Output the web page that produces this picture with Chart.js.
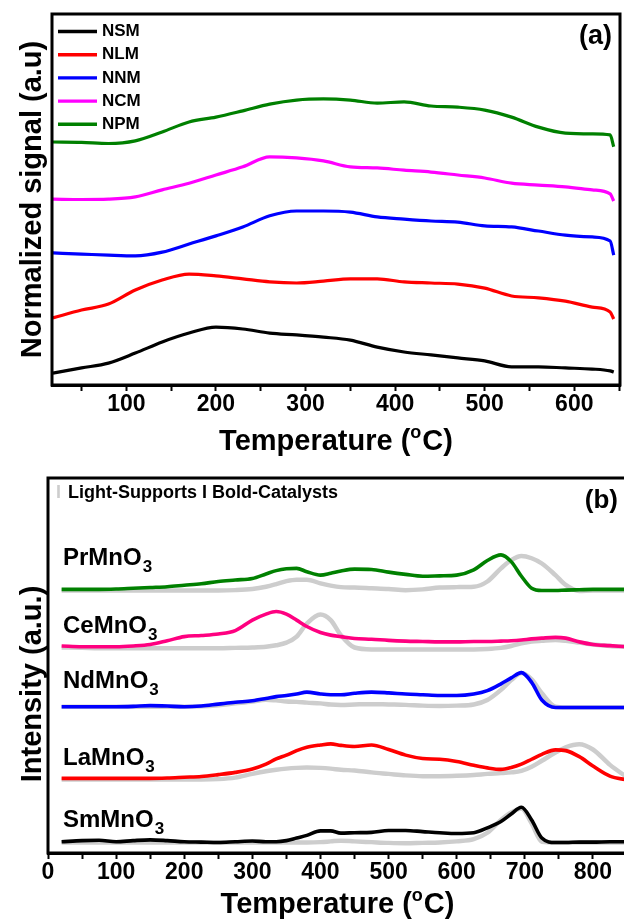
<!DOCTYPE html>
<html>
<head>
<meta charset="utf-8">
<title>TPR profiles</title>
<script src="https://cdn.jsdelivr.net/npm/chart.js@4.4.0/dist/chart.umd.min.js"></script>
<style>
  html, body { margin: 0; padding: 0; background: #fff; overflow: hidden; width: 624px; height: 924px; }
  canvas { position: absolute; left: 0; }
  #chartA { top: 0; }
  #chartB { top: 462px; }
</style>
</head>
<body>
<canvas id="chartA" width="624" height="462"></canvas>
<canvas id="chartB" width="632" height="462"></canvas>
<script>
/**
 * Two stacked TPR panels: (a) normalized signal, (b) supports vs catalysts
 */

// ---- panel (a) data ----
const TEMP_A = [18, 50, 80, 110, 140, 170, 200, 230, 260, 290, 320, 350, 380, 410, 440, 470, 500, 530, 560, 590, 620, 640, 644];
const NSM = [3.2, 4.6, 5.9, 8.6, 11.6, 14.0, 15.6, 15.1, 14.0, 13.5, 12.9, 12.1, 10.2, 8.9, 8.1, 7.3, 6.5, 4.9, 4.9, 4.6, 4.3, 3.8, 3.5];
const NLM = [18.1, 20.2, 21.8, 25.6, 28.3, 29.9, 29.4, 28.6, 27.8, 27.5, 28.0, 28.6, 28.6, 27.8, 27.5, 27.2, 26.1, 24.0, 23.5, 22.6, 21.0, 19.7, 17.8];
const NNM = [35.6, 35.3, 35.0, 34.8, 35.8, 38.0, 40.2, 42.6, 45.6, 46.9, 46.9, 46.6, 45.3, 44.7, 44.2, 43.9, 42.9, 42.6, 41.5, 40.4, 39.9, 38.8, 35.0];
const NCM = [50.1, 50.0, 50.1, 50.7, 52.6, 54.4, 56.6, 58.8, 61.5, 61.2, 60.4, 58.8, 58.5, 57.9, 57.4, 56.6, 55.8, 54.4, 53.9, 53.4, 52.6, 51.5, 49.6];
const NPM = [65.5, 65.4, 65.1, 65.8, 68.2, 70.9, 72.2, 73.9, 75.7, 76.8, 77.1, 76.8, 76.0, 76.3, 75.2, 74.9, 74.1, 72.2, 69.5, 67.9, 67.7, 67.4, 64.2];
const LABELS_A = ['NSM', 'NLM', 'NNM', 'NCM', 'NPM'];
const TICKS_A = { min: 17, max: 651, step: 50, labelEvery: 100 };

// ---- panel (b) data ----
const TEMP_B = [20, 50, 75, 100, 125, 150, 175, 200, 225, 250, 275, 300, 320, 335, 350, 365, 380, 400, 415, 430,
  450, 475, 500, 525, 550, 575, 600, 625, 645, 665, 680, 695, 710, 725, 745, 760, 780, 800, 825, 850];
const PR_CAT = [70.3, 70.3, 70.3, 70.4, 70.6, 70.8, 71.0, 71.4, 71.8, 72.4, 72.8, 73.2, 74.4, 75.3, 75.8, 75.9, 75.0, 74.1, 74.6, 75.2,
  75.7, 75.6, 74.9, 74.3, 73.8, 73.9, 74.1, 75.5, 78.0, 79.5, 77.7, 73.8, 70.6, 70.0, 70.0, 70.1, 70.2, 70.3, 70.3, 70.3];
const PR_SUP = [70.0, 70.0, 70.0, 70.0, 70.0, 70.0, 70.0, 70.0, 70.0, 70.0, 70.1, 70.4, 71.0, 71.7, 72.5, 72.9, 72.9, 71.9, 71.3, 70.9,
  70.8, 70.6, 70.4, 70.1, 70.3, 70.8, 70.9, 71.0, 72.4, 75.9, 78.1, 79.2, 78.6, 77.2, 74.1, 71.5, 69.9, 70.0, 70.0, 70.0];
const CE_CAT = [55.2, 55.0, 55.0, 55.0, 55.2, 55.6, 56.6, 57.7, 58.0, 58.4, 59.3, 62.1, 63.7, 64.4, 63.7, 62.1, 60.4, 58.8, 58.1, 57.7,
  57.2, 57.0, 56.7, 56.5, 56.4, 56.3, 56.3, 56.4, 56.4, 56.5, 56.6, 56.8, 57.1, 57.3, 57.5, 57.3, 56.3, 55.6, 55.3, 55.0];
const CE_SUP = [54.8, 54.7, 54.6, 54.6, 54.6, 54.6, 54.6, 54.6, 54.6, 54.6, 54.7, 54.8, 55.0, 55.4, 56.1, 57.7, 61.2, 63.6, 62.1, 58.1,
  54.8, 54.3, 54.3, 54.3, 54.3, 54.3, 54.3, 54.3, 54.4, 54.7, 55.2, 55.9, 56.4, 56.6, 56.8, 56.6, 56.1, 55.6, 55.2, 55.0];
const ND_CAT = [39.0, 39.0, 39.0, 39.0, 39.1, 39.3, 39.2, 39.0, 39.2, 39.7, 40.2, 40.6, 41.2, 41.7, 42.0, 42.4, 42.9, 42.4, 42.2, 42.2,
  42.6, 42.9, 42.7, 42.4, 42.2, 42.0, 42.0, 42.4, 43.3, 45.1, 46.7, 48.1, 45.5, 40.8, 38.8, 38.8, 38.8, 38.8, 38.8, 38.8];
const ND_SUP = [39.0, 39.0, 39.0, 39.0, 39.0, 39.0, 39.0, 39.0, 39.1, 39.4, 39.9, 40.4, 40.9, 40.7, 40.4, 40.3, 40.1, 39.9, 39.6, 39.5,
  39.6, 39.7, 39.6, 39.5, 39.3, 39.2, 39.3, 39.6, 40.8, 43.5, 46.1, 48.0, 46.3, 42.6, 39.0, 38.8, 38.8, 38.8, 38.8, 38.8];
const LA_CAT = [19.9, 19.9, 19.9, 19.9, 19.9, 19.9, 20.0, 20.2, 20.4, 20.9, 21.5, 22.4, 23.7, 25.1, 26.1, 27.3, 28.2, 28.8, 29.1, 28.7,
  28.4, 28.8, 27.6, 26.1, 25.2, 25.0, 24.4, 23.4, 22.7, 22.3, 22.8, 23.7, 25.0, 26.3, 27.5, 27.3, 25.7, 23.2, 20.5, 19.5];
const LA_SUP = [19.6, 19.6, 19.6, 19.6, 19.6, 19.6, 19.6, 19.6, 19.6, 19.7, 20.1, 21.1, 21.8, 22.2, 22.5, 22.7, 22.8, 22.7, 22.5, 22.2,
  22.0, 21.5, 21.1, 20.7, 20.5, 20.5, 20.6, 20.8, 21.1, 21.3, 21.5, 21.9, 23.0, 24.6, 26.8, 28.2, 29.0, 27.6, 23.5, 20.2];
const SM_CAT = [3.0, 3.3, 3.4, 3.0, 3.3, 3.5, 3.3, 3.0, 2.9, 2.8, 3.0, 3.2, 3.0, 3.0, 3.3, 4.0, 4.7, 5.9, 5.9, 5.3,
  5.4, 5.5, 6.0, 6.0, 5.7, 5.4, 5.2, 5.4, 6.7, 8.4, 10.4, 12.2, 8.8, 4.0, 2.8, 2.8, 2.9, 2.9, 3.0, 3.0];
const SM_SUP = [2.8, 2.8, 2.8, 2.8, 2.8, 2.8, 2.8, 2.8, 2.8, 2.8, 2.8, 2.8, 2.8, 2.8, 2.8, 2.8, 2.8, 2.9, 3.1, 3.3,
  3.1, 2.9, 2.7, 2.6, 2.7, 2.8, 3.1, 3.7, 5.4, 8.8, 10.8, 11.9, 7.9, 3.0, 2.8, 2.8, 2.8, 2.8, 2.8, 2.8];
const LABELS_B = ['PrMnO3', 'CeMnO3', 'NdMnO3', 'LaMnO3', 'SmMnO3'];
const TICKS_B = { min: 0, max: 850, step: 50, labelEvery: 100 };

const COLORS = {
  black: '#000000',
  red: '#ff0000',
  blue: '#0000ff',
  magenta: '#ff00ff',
  green: '#008000',
  pink: '#ff0080',
  support: '#cdcdcd'
};

const FONT = '"Liberation Sans", Arial, Helvetica, sans-serif';
Chart.defaults.font.family = FONT;
Chart.defaults.color = '#000';

/**
 * Zips a temperature list and a value list into {x, y} points
 */
function toPoints(temps, values) {
  return values.map((v, i) => ({ x: temps[i], y: v }));
}

/**
 * Bottom temperature axis shared by both panels
 */
function tempAxis(t, height) {
  return {
    type: 'linear',
    min: t.min,
    max: t.max,
    afterFit: scale => { scale.height = height; },
    border: { display: true, color: '#000', width: 3 },
    grid: { drawOnChartArea: false, drawTicks: true, tickLength: 6, tickColor: '#000', tickWidth: 2 },
    ticks: {
      stepSize: t.step,
      includeBounds: false,
      autoSkip: false,
      maxRotation: 0,
      padding: 0,
      color: '#000',
      font: { size: 23, weight: 'bold' },
      callback: v => (v % t.labelEvery === 0 ? String(v) : '')
    }
  };
}

/**
 * Writes "Temperature (oC)" with a raised o
 */
function drawTempTitle(ctx, cx, baseline) {
  const big = 'bold 29px ' + FONT;
  const small = 'bold 18px ' + FONT;
  ctx.font = big;
  const w1 = ctx.measureText('Temperature (').width;
  const w3 = ctx.measureText('C)').width;
  ctx.font = small;
  const w2 = ctx.measureText('o').width + 1;
  let x = cx - (w1 + w2 + w3) / 2;
  ctx.textAlign = 'left';
  ctx.textBaseline = 'alphabetic';
  ctx.fillStyle = '#000';
  ctx.font = big;
  ctx.fillText('Temperature (', x, baseline);
  x += w1;
  ctx.font = small;
  ctx.fillText('o', x, baseline - 12);
  x += w2;
  ctx.font = big;
  ctx.fillText('C)', x, baseline);
}

/**
 * Writes a rotated y-axis title
 */
function drawYTitle(ctx, text, x, cy) {
  ctx.save();
  ctx.translate(x, cy);
  ctx.rotate(-Math.PI / 2);
  ctx.font = 'bold 29px ' + FONT;
  ctx.fillStyle = '#000';
  ctx.textAlign = 'center';
  ctx.textBaseline = 'alphabetic';
  ctx.fillText(text, 0, 0);
  ctx.restore();
}

function drawFrame(ctx, a) {
  ctx.strokeStyle = '#000';
  ctx.lineWidth = 3;
  ctx.strokeRect(a.left, a.top, a.right - a.left, a.bottom - a.top);
}

const panelAPlugin = {
  id: 'panelA',
  afterDraw(chart) {
    const { ctx, chartArea: a } = chart;
    ctx.save();
    drawFrame(ctx, a);

    // legend, top-left
    ctx.font = 'bold 17px ' + FONT;
    ctx.textBaseline = 'middle';
    ctx.textAlign = 'left';
    chart.data.datasets.forEach((ds, i) => {
      const y = 31.5 + i * 23.2;
      ctx.strokeStyle = ds.borderColor;
      ctx.lineWidth = 3.4;
      ctx.beginPath();
      ctx.moveTo(58, y);
      ctx.lineTo(97, y);
      ctx.stroke();
      ctx.fillStyle = '#000';
      ctx.fillText(ds.label, 102, y);
    });

    ctx.font = 'bold 27px ' + FONT;
    ctx.textAlign = 'right';
    ctx.textBaseline = 'alphabetic';
    ctx.fillText('(a)', 612, 44);

    drawTempTitle(ctx, (a.left + a.right) / 2, 450);
    drawYTitle(ctx, 'Normalized signal (a.u)', 41, (a.top + a.bottom) / 2);
    ctx.restore();
  }
};

const SAMPLE_BASELINES = [103, 171, 226, 303, 365];

const panelBPlugin = {
  id: 'panelB',
  afterDraw(chart) {
    const { ctx, chartArea: a } = chart;
    ctx.save();
    drawFrame(ctx, a);

    // key line
    ctx.textAlign = 'left';
    ctx.textBaseline = 'alphabetic';
    ctx.font = 'bold 18px ' + FONT;
    ctx.fillStyle = COLORS.support;
    ctx.fillText('I', 56, 36);
    ctx.fillStyle = '#000';
    ctx.fillText('Light-Supports I Bold-Catalysts', 68, 36);

    ctx.font = 'bold 26px ' + FONT;
    ctx.textAlign = 'right';
    ctx.fillText('(b)', 618, 46);

    // sample names with subscript
    ctx.textAlign = 'left';
    LABELS_B.forEach((name, i) => {
      const main = name.slice(0, -1);
      const sub = name.slice(-1);
      const y = SAMPLE_BASELINES[i];
      ctx.font = 'bold 24px ' + FONT;
      ctx.fillText(main, 63, y);
      const w = ctx.measureText(main).width;
      ctx.font = 'bold 17px ' + FONT;
      ctx.fillText(sub, 63 + w + 1, y + 7);
    });

    drawTempTitle(ctx, (a.left + a.right) / 2, 451);
    drawYTitle(ctx, 'Intensity (a.u.)', 41, 222);
    ctx.restore();
  }
};

// ---- panel (a) ----
const seriesA = [NSM, NLM, NNM, NCM, NPM];
const colorsA = [COLORS.black, COLORS.red, COLORS.blue, COLORS.magenta, COLORS.green];

new Chart(document.getElementById('chartA'), {
  type: 'line',
  data: {
    datasets: seriesA.map((vals, i) => ({
      label: LABELS_A[i],
      data: toPoints(TEMP_A, vals),
      borderColor: colorsA[i],
      borderWidth: 3.2
    }))
  },
  options: {
    responsive: false,
    animation: false,
    layout: { padding: { left: 52, top: 14, right: 4, bottom: 0 } },
    elements: { point: { radius: 0 }, line: { cubicInterpolationMode: 'monotone' } },
    plugins: { legend: { display: false }, tooltip: { enabled: false } },
    scales: {
      x: tempAxis(TICKS_A, 77),
      y: { display: false, min: 0, max: 100 }
    }
  },
  plugins: [panelAPlugin]
});

// ---- panel (b) ----
const catalysts = [PR_CAT, CE_CAT, ND_CAT, LA_CAT, SM_CAT];
const supports = [PR_SUP, CE_SUP, ND_SUP, LA_SUP, SM_SUP];
const colorsB = [COLORS.green, COLORS.pink, COLORS.blue, COLORS.red, COLORS.black];

const datasetsB = [];
supports.forEach((vals, i) => {
  datasetsB.push({
    label: LABELS_B[i] + ' support',
    data: toPoints(TEMP_B, vals),
    borderColor: COLORS.support,
    borderWidth: 4.5,
    order: 2
  });
});
catalysts.forEach((vals, i) => {
  datasetsB.push({
    label: LABELS_B[i],
    data: toPoints(TEMP_B, vals),
    borderColor: colorsB[i],
    borderWidth: 3.6,
    order: 1
  });
});

new Chart(document.getElementById('chartB'), {
  type: 'line',
  data: { datasets: datasetsB },
  options: {
    responsive: false,
    animation: false,
    layout: { padding: { left: 48, top: 16, right: 5, bottom: 0 } },
    elements: { point: { radius: 0 }, line: { cubicInterpolationMode: 'monotone' } },
    plugins: { legend: { display: false }, tooltip: { enabled: false } },
    scales: {
      x: tempAxis(TICKS_B, 71),
      y: { display: false, min: 0, max: 100 }
    }
  },
  plugins: [panelBPlugin]
});
</script>
</body>
</html>
